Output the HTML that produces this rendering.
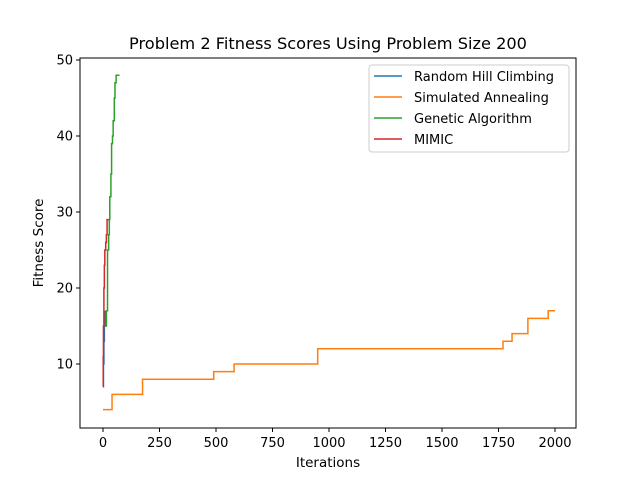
<!DOCTYPE html>
<html><head><meta charset="utf-8"><style>
body{margin:0;background:#fff;font-family:"Liberation Sans","DejaVu Sans",sans-serif}
svg text{font-family:"DejaVu Sans","Liberation Sans",sans-serif}
</style></head><body>
<svg id="c" width="640" height="480">
<rect width="640" height="480" fill="#fff"/>
<text x="328" y="49" text-anchor="middle" font-size="16.2">Problem 2 Fitness Scores Using Problem Size 200</text>
<g id="plot"></g>
<rect x="80" y="58" width="496" height="370" fill="none" stroke="#000" stroke-width="1"/>
<text x="328" y="467" text-anchor="middle" font-size="13.5">Iterations</text>
<text transform="translate(43,243) rotate(-90)" text-anchor="middle" font-size="13.5">Fitness Score</text>
</svg>
<script>
const xTicks=[0,250,500,750,1000,1250,1500,1750,2000];
const yTicks=[10,20,30,40,50];
const seriesNames=["Random Hill Climbing","Simulated Annealing","Genetic Algorithm","MIMIC"];
const seriesColors=["#1f77b4","#ff7f0e","#2ca02c","#d62728"];
const rhcX=[0,2,4,6,10];
const rhcY=[7,10,13,15,17];
const saX=[0,40,175,490,580,950,1770,1810,1880,1970,2000];
const saY=[4,6,8,9,10,12,13,14,16,17,17];
const gaX=[10,15,20,25,28,30,35,38,42,45,50,53,58,73];
const gaY=[15,17,25,27,29,32,35,39,40,42,45,47,48,48];
const miX=[0,1,2,4,6,8,12,15,18,25];
const miY=[7,11,15,20,23,25,26,27,29,29];
const NS="http://www.w3.org/2000/svg";
const sx=v=>103+v*0.226;
const sy=v=>364-(v-10)*7.6;
const svg=document.getElementById('c');
const plot=document.getElementById('plot');
function mk(t,a,p){const e=document.createElementNS(NS,t);for(const k in a)e.setAttribute(k,a[k]);(p||svg).appendChild(e);return e;}
xTicks.forEach(t=>{
 const l=mk('line',{x1:sx(t),x2:sx(t),y1:428,y2:432,stroke:'#000'});
 
 
 const tx=mk('text',{x:sx(t),y:447,'text-anchor':'middle','font-size':'13'});tx.textContent=t;
 
 
});
yTicks.forEach(t=>{
 const l=mk('line',{x1:76,x2:80,y1:sy(t),y2:sy(t),stroke:'#000'});
 
 
 const tx=mk('text',{x:73,y:sy(t)+4.5,'text-anchor':'end','font-size':'13'});tx.textContent=t;
 
 
});
function step(xs,ys,col,name){
 let d='M'+sx(xs[0])+','+sy(ys[0]);
 for(let i=1;i<xs.length;i++){d+=' H'+sx(xs[i])+' V'+sy(ys[i]);}
 const p=mk('path',{d:d,fill:'none',stroke:col,'stroke-width':1.5},plot);
 
 
}
step(rhcX,rhcY,seriesColors[0],'rhc-line');
step(saX,saY,seriesColors[1],'sa-line');
step(gaX,gaY,seriesColors[2],'ga-line');
step(miX,miY,seriesColors[3],'mimic-line');
const lg=mk('g',{});


mk('rect',{x:369,y:65,width:200,height:87,rx:3,fill:'#fff',stroke:'#ccc'},lg);
seriesNames.forEach((n,i)=>{
 const y=76+i*21;
 const l=mk('line',{x1:374,x2:402,y1:y,y2:y,stroke:seriesColors[i],'stroke-width':1.5},lg);
 
 
 const t=mk('text',{x:414,y:y+5,'font-size':'13'},lg);t.textContent=n;
 
 
});
</script>
</body></html>
